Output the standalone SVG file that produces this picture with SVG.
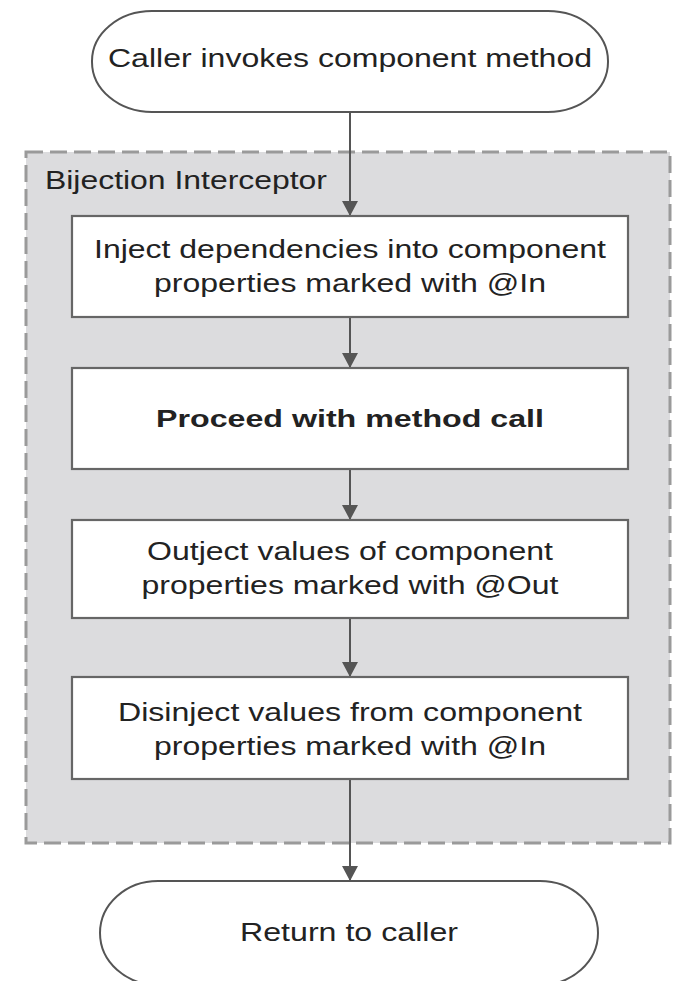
<svg xmlns="http://www.w3.org/2000/svg" width="673" height="981" viewBox="0 0 673 981">
<defs>
<style>
.t{font-family:"Liberation Sans",Arial,sans-serif;font-size:25.6px;fill:#222;text-anchor:middle}
.b{font-weight:bold;font-size:24.5px}
.term{fill:#fff;stroke:#555;stroke-width:2}
.box{fill:#fff;stroke:#666;stroke-width:2.2}
.edge{stroke:#555;stroke-width:2;fill:none;marker-end:url(#ah)}
</style>
<marker id="ah" markerWidth="15" markerHeight="16" refX="15" refY="8" orient="auto" markerUnits="userSpaceOnUse" viewBox="0 0 15 16">
<path d="M0,0 L15,8 L0,16 Z" fill="#555"/>
</marker>
</defs>
<rect width="673" height="981" fill="#fff"/>
<g id="container">
<rect x="26" y="152" width="644" height="691" fill="#dcdcde" stroke="#9a9a9a" stroke-width="3" stroke-dasharray="17,7"/>
<text class="t" x="45" y="189" style="text-anchor:start" textLength="282" lengthAdjust="spacingAndGlyphs">Bijection Interceptor</text>
</g>
<g id="connectors">
<line class="edge" x1="350" y1="112" x2="350" y2="216"/>
<line class="edge" x1="350" y1="317" x2="350" y2="368"/>
<line class="edge" x1="350" y1="469" x2="350" y2="520"/>
<line class="edge" x1="350" y1="618" x2="350" y2="677"/>
<line class="edge" x1="350" y1="779" x2="350" y2="881"/>
</g>
<g id="start">
<rect class="term" x="92" y="11" width="516" height="101" rx="60" ry="50"/>
<text class="t" x="350" y="67" textLength="484" lengthAdjust="spacingAndGlyphs">Caller invokes component method</text>
</g>
<g id="inject">
<rect class="box" x="72" y="216" width="556" height="101"/>
<text class="t" x="350" y="258" textLength="512" lengthAdjust="spacingAndGlyphs">Inject dependencies into component</text>
<text class="t" x="350" y="292" textLength="392" lengthAdjust="spacingAndGlyphs">properties marked with @In</text>
</g>
<g id="proceed">
<rect class="box" x="72" y="368" width="556" height="101"/>
<text class="t b" x="350" y="427" textLength="388" lengthAdjust="spacingAndGlyphs">Proceed with method call</text>
</g>
<g id="outject">
<rect class="box" x="72" y="520" width="556" height="98"/>
<text class="t" x="350" y="560" textLength="406" lengthAdjust="spacingAndGlyphs">Outject values of component</text>
<text class="t" x="350" y="594" textLength="417" lengthAdjust="spacingAndGlyphs">properties marked with @Out</text>
</g>
<g id="disinject">
<rect class="box" x="72" y="677" width="556" height="102"/>
<text class="t" x="350" y="721" textLength="464" lengthAdjust="spacingAndGlyphs">Disinject values from component</text>
<text class="t" x="350" y="755" textLength="392" lengthAdjust="spacingAndGlyphs">properties marked with @In</text>
</g>
<g id="end">
<rect class="term" x="100" y="881" width="498" height="104" rx="58" ry="52"/>
<text class="t" x="349" y="941" textLength="218" lengthAdjust="spacingAndGlyphs">Return to caller</text>
</g>
</svg>
